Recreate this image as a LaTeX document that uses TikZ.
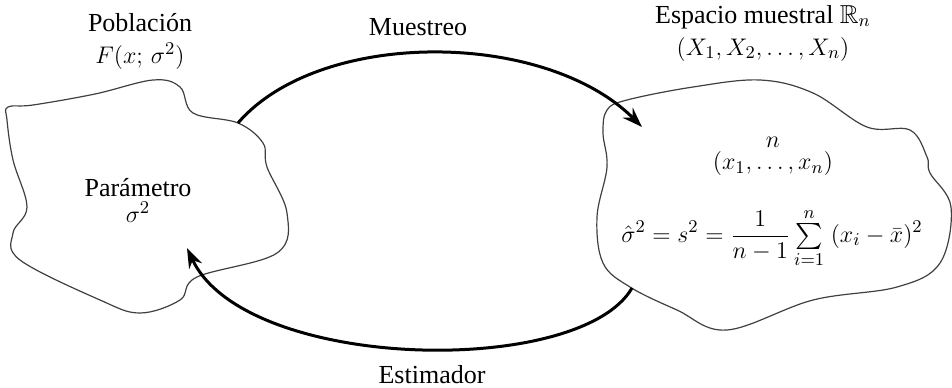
\documentclass[tikz,border=0pt]{standalone}
\usepackage{amsmath,amssymb}
\usepackage{fontspec}
\setmainfont{Liberation Serif}
\usetikzlibrary{positioning,arrows.meta}
\tikzset{
  blob/.style={draw=black!75,line width=0.6pt},
  flecha/.style={line width=1.5pt,-{Stealth[length=10pt,width=7pt]}},
  rotulo/.style={align=center,inner sep=1pt,font=\fontsize{13}{16}\selectfont},
}

\begin{document}
\begin{tikzpicture}[x=0.5pt,y=-0.5pt]
  \useasboundingbox (0,0) rectangle (952,387);
  % poblacion
  \draw[blob] plot[smooth cycle,tension=0.6] coordinates {
    (8,107) (33,105) (95,94) (153,80) (180,87) (193,113) (238,123)
    (263,143) (267,167) (287,213) (277,253) (197,277) (180,300)
    (140,313) (100,300) (20,260) (13,233) (27,207) (13,160) (7,120)};
  % espacio muestral
  \draw[blob] plot[smooth cycle,tension=0.6] coordinates {
    (607,110) (627,100) (693,87) (760,80) (813,93) (867,127) (910,130)
    (927,157) (930,173) (951,207) (940,263) (897,287) (813,300)
    (727,330) (677,310) (630,287) (603,263) (597,217) (607,167) (603,133)};
  \node[rotulo] (pob) at (140,41) {Población\\$F(x;\,\sigma^2)$};
  \node[rotulo] (par) at (138,200) {Parámetro\\[-3pt]$\sigma^2$};
  \node[rotulo] (esp) at (763,33) {Espacio muestral $\mathbb{R}_n$\\$(X_1, X_2, \ldots, X_n)$};
  \node[rotulo] (nn) at (773,142) {$n$};
  \node[rotulo,below=0pt of nn] (xs) {$(x_1, \ldots, x_n)$};
  \node[rotulo] (formula) at (772,238)
    {$\displaystyle\hat\sigma^2 = s^2 = \frac{1}{n-1}\,{\textstyle\sum\limits_{i=1}^{n}}\;(x_i-\bar x)^2$};
  \node[rotulo] (mues) at (418,27) {Muestreo};
  \node[rotulo] (est) at (432,375) {Estimador};
  % flechas
  \coordinate (a1) at (238,123);
  \coordinate (a2) at (642,127);
  \coordinate (b1) at (632,288);
  \coordinate (b2) at (187,248);
  \draw[flecha] (a1) .. controls (320,28) and (545,30) .. (a2);
  \draw[flecha] (b1) .. controls (580,378) and (245,372) .. (b2);
\end{tikzpicture}
\end{document}
